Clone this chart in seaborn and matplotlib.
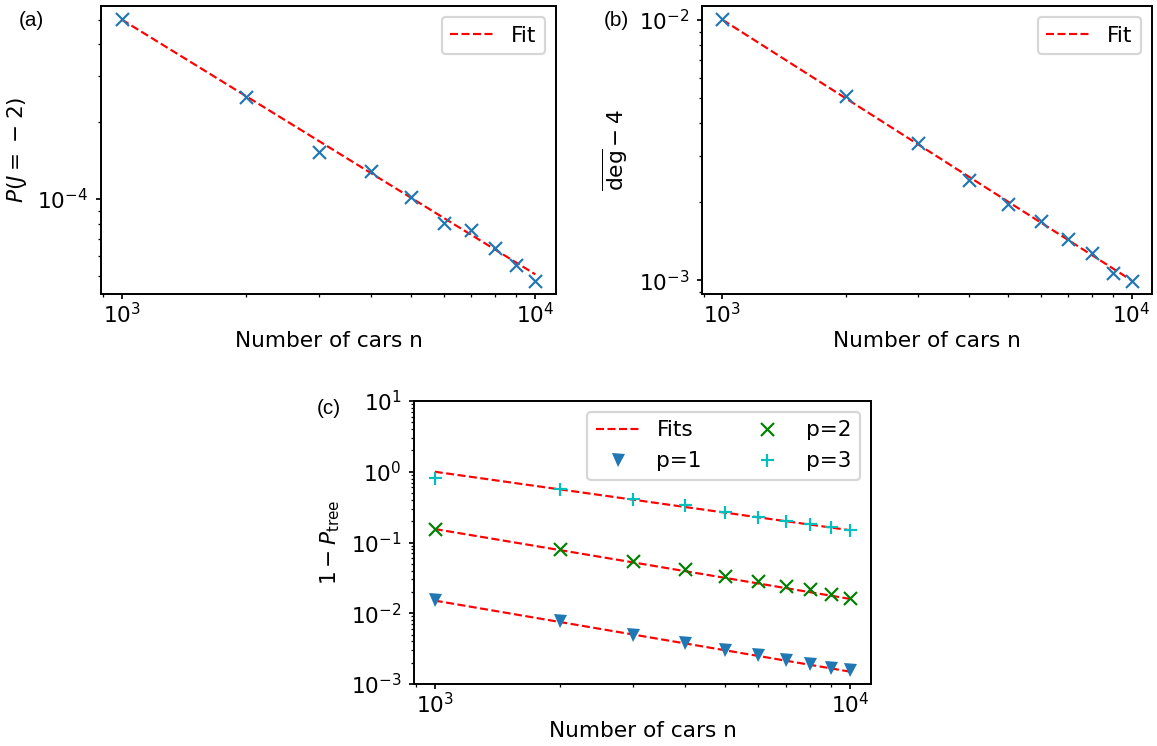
import numpy as np
import matplotlib
matplotlib.use("Agg")
import matplotlib.pyplot as plt
import seaborn as sns

# ---------------- data ----------------
n_cars = [1000, 2000, 3000, 4000, 5000, 6000, 7000, 8000, 9000, 10000]

# (a) P(J = -2)
pj_vals = [5.02e-4, 2.50e-4, 1.52e-4, 1.28e-4, 1.015e-4,
           8.02e-5, 7.55e-5, 6.45e-5, 5.52e-5, 4.79e-5]
# (b) mean degree - 4
deg_vals = [1.006e-2, 5.08e-3, 3.36e-3, 2.42e-3, 1.96e-3,
            1.69e-3, 1.44e-3, 1.27e-3, 1.07e-3, 0.995e-3]
# (c) 1 - P_tree
p1_vals = [1.56e-2, 7.84e-3, 4.98e-3, 3.82e-3, 3.06e-3,
           2.56e-3, 2.19e-3, 1.90e-3, 1.70e-3, 1.57e-3]
p2_vals = [0.154, 0.081, 0.0556, 0.0417, 0.0338,
           0.0283, 0.0243, 0.0217, 0.0190, 0.0166]
p3_vals = [0.828, 0.562, 0.417, 0.334, 0.274,
           0.232, 0.203, 0.184, 0.163, 0.149]

# power-law fits: (amplitude at n=1000, exponent)
fit_a = (5.0e-4, -0.993)
fit_b = (1.0e-2, -1.0)
fit_p1 = (1.51e-2, -1.005)
fit_p2 = (0.155, -0.988)
fit_p3 = (1.0, -0.827)

panel_labels = ["(a)", "(b)", "(c)"]
xlabel = "Number of cars n"

# ---------------- style ----------------
plt.rcParams.update({
    "xtick.major.size": 2.4, "ytick.major.size": 2.4,
    "xtick.minor.size": 1.4, "ytick.minor.size": 1.4,
    "xtick.major.pad": 1.2, "xtick.minor.pad": 1.2,
    "ytick.major.pad": 3.3,
    "axes.linewidth": 0.9,
})

# ---------------- figure ----------------
W, H = 1157, 746
DPI = 156
fig = plt.figure(figsize=(W / DPI, H / DPI), dpi=DPI)


def frac_box(x0, y0, x1, y1):
    return [x0 / W, 1 - y1 / H, (x1 - x0) / W, (y1 - y0) / H]


ax_a = fig.add_axes(frac_box(101, 6, 556, 294))
ax_b = fig.add_axes(frac_box(702, 6, 1152, 294))
ax_c = fig.add_axes(frac_box(414, 401, 871, 684))

n_arr = np.array(n_cars, dtype=float)


def fit_curve(params):
    amp, expo = params
    return amp * (n_arr / 1000.0) ** expo


def markers(ax, yvals, marker, color):
    filled = marker == "v"
    sns.lineplot(x=n_cars, y=yvals, ax=ax, marker=marker, linestyle="",
                 color=color, markersize=6,
                 markeredgewidth=0.0 if filled else 1.0,
                 markeredgecolor=color, markerfacecolor=color,
                 estimator=None, legend=False)
    return ax.lines[-1]


def fitline(ax, params, label=None):
    sns.lineplot(x=n_cars, y=fit_curve(params), ax=ax, color="red",
                 linestyle="--", linewidth=1.0, estimator=None, legend=False)
    ln = ax.lines[-1]
    if label:
        ln.set_label(label)
    return ln


for ax in (ax_a, ax_b, ax_c):
    ax.set_xscale("log")
    ax.set_yscale("log")

# (a)
fa = fitline(ax_a, fit_a, "Fit")
markers(ax_a, pj_vals, "x", "#1f77b4")
ax_a.legend(handles=[fa], loc="upper right")
ax_a.set_xlabel(xlabel, labelpad=1.8)
ax_a.set_ylabel(r"$P(J=\;{-}\;2)$")

# (b)
fb = fitline(ax_b, fit_b, "Fit")
markers(ax_b, deg_vals, "x", "#1f77b4")
ax_b.legend(handles=[fb], loc="upper right")
ax_b.set_xlabel(xlabel, labelpad=1.8)
ax_b.set_ylabel(r"$\overline{\mathrm{deg}} - 4$")

# (c)
fc = fitline(ax_c, fit_p1, "Fits")
fitline(ax_c, fit_p2)
fitline(ax_c, fit_p3)
h1 = markers(ax_c, p1_vals, "v", "#1f77b4")
h1.set_label("p=1")
h2 = markers(ax_c, p2_vals, "x", "green")
h2.set_label("p=2")
h3 = markers(ax_c, p3_vals, "+", "c")
h3.set_label("p=3")
ax_c.set_ylim(1e-3, 1e1)
ax_c.legend(handles=[fc, h1, h2, h3], ncol=2, loc="upper right")
ax_c.set_xlabel(xlabel, labelpad=1.8)
ax_c.set_ylabel(r"$1-P_{\mathrm{tree}}$")

# panel labels
for lab, (px, py) in zip(panel_labels, [(31, 21), (616, 20), (329, 408)]):
    fig.text(px / W, 1 - py / H, lab, ha="center", va="center",
             fontsize=9.5, family=["Liberation Sans", "DejaVu Sans"])

fig.savefig("out.png", dpi=DPI)
